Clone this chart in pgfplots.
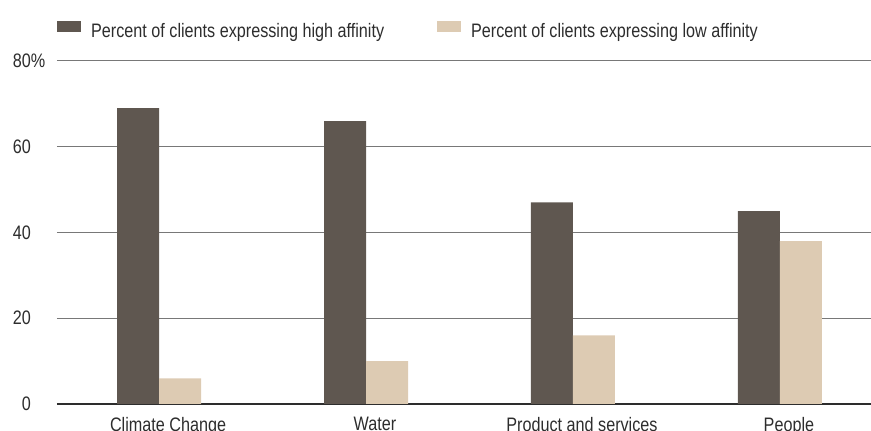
\documentclass[border=0pt]{standalone}
\usepackage{fontspec}
\setmainfont{Liberation Sans}[FakeStretch=0.83]
\usepackage{pgfplots}
\pgfplotsset{compat=1.18}
\definecolor{darkbar}{RGB}{95,87,80}
\definecolor{lightbar}{RGB}{221,203,179}
\definecolor{txt}{RGB}{45,45,45}
\definecolor{gridc}{RGB}{120,120,120}
\begin{document}
\begin{tikzpicture}
\begin{axis}[
  name=ax,
  scale only axis,
  width=814bp, height=343bp,
  xmin=-0.493, xmax=3.44,
  ymin=0, ymax=80,
  ybar=0pt, bar width=42bp,
  xtick={0,1,2,3},
  xticklabels={Climate Change,Water,Product and services,People},
  ytick={0,20,40,60,80},
  yticklabels={0,20,40,60,80\rlap{\%}},
  major tick length=0pt,
  axis x line*=bottom,
  axis y line*=left,
  x axis line style={-, draw=txt, line width=2.5bp},
  y axis line style={draw=none},
  ymajorgrids,
  grid style={gridc, line width=1bp},
  tick label style={font=\fontsize{19.5bp}{22bp}\selectfont, text=txt},
  yticklabel style={anchor=east, inner sep=0pt, xshift=-26bp},
  xticklabel style={anchor=north, inner sep=0pt, yshift=-13bp, xshift=9bp},
  /pgf/number format/assume math mode=true,
  clip=false,
  legend columns=2,
  legend style={draw=none, fill=none, at={(rel axis cs:0,1)}, anchor=west, yshift=31bp,
    inner sep=0pt, font=\fontsize{19.5bp}{22bp}\selectfont, text=txt,
    nodes={inner sep=0pt},
    /tikz/every odd column/.append style={column sep=10bp},
    /tikz/every even column/.append style={column sep=53bp}},
  legend image code/.code={\fill[#1] (0bp,-1bp) rectangle (24bp,10bp);},
]
\addplot[fill=darkbar, draw=none] coordinates {(0,69) (1,66) (2,47) (3,45)};
\addplot[fill=lightbar, draw=none] coordinates {(0,6) (1,10) (2,16) (3,38)};
\legend{Percent of clients expressing high affinity, Percent of clients expressing low affinity}
\end{axis}
\pgfresetboundingbox
\path[use as bounding box] ([xshift=-57bp,yshift=-27bp]ax.south west) rectangle ([yshift=61bp]ax.north east);
\end{tikzpicture}
\end{document}
